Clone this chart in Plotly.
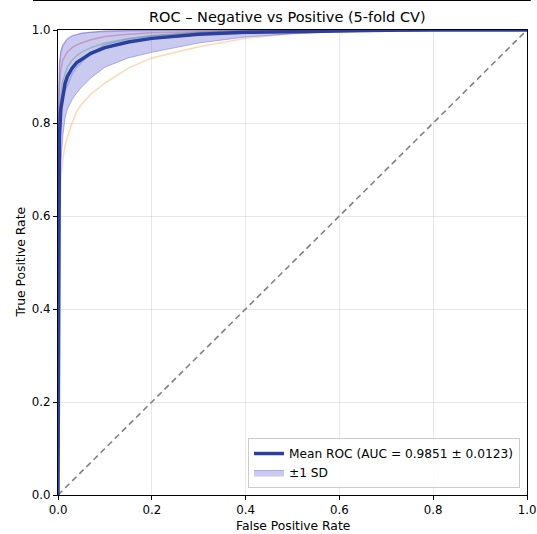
import plotly.graph_objects as go

fpr = [0, 0.001, 0.003, 0.006, 0.01, 0.015, 0.02, 0.03, 0.04, 0.05, 0.07, 0.1,
       0.15, 0.2, 0.3, 0.4, 0.5, 0.6, 0.7, 0.8, 1.0]

fold_tpr = {
    "Fold 1": [0, 0.70, 0.80, 0.84, 0.86, 0.87, 0.88, 0.905, 0.92, 0.93, 0.95, 0.969,
               0.98, 0.987, 0.994, 0.997, 0.999, 1.0, 1.0, 1.0, 1.0],
    "Fold 2": [0, 0.40, 0.60, 0.68, 0.72, 0.75, 0.77, 0.80, 0.825, 0.84, 0.862, 0.886,
               0.918, 0.94, 0.964, 0.982, 0.992, 0.997, 0.999, 1.0, 1.0],
    "Fold 3": [0, 0.72, 0.82, 0.86, 0.89, 0.905, 0.92, 0.935, 0.945, 0.952, 0.962, 0.972,
               0.982, 0.988, 0.995, 0.998, 0.999, 1.0, 1.0, 1.0, 1.0],
    "Fold 4": [0, 0.80, 0.88, 0.915, 0.935, 0.945, 0.953, 0.962, 0.968, 0.972, 0.979, 0.986,
               0.991, 0.994, 0.997, 0.999, 1.0, 1.0, 1.0, 1.0, 1.0],
    "Fold 5": [0, 0.85, 0.92, 0.95, 0.965, 0.975, 0.982, 0.988, 0.991, 0.993, 0.995, 0.997,
               0.998, 0.999, 1.0, 1.0, 1.0, 1.0, 1.0, 1.0, 1.0],
}
fold_colors = ["#1f77b4", "#ff7f0e", "#2ca02c", "#d62728", "#9467bd"]

mean_tpr = [0, 0.66, 0.77, 0.83, 0.86, 0.885, 0.90, 0.918, 0.93, 0.937, 0.95, 0.962,
            0.974, 0.982, 0.991, 0.995, 0.997, 0.999, 0.9995, 1.0, 1.0]
tpr_upper = [0, 0.82, 0.93, 0.955, 0.968, 0.975, 0.98, 0.987, 0.99, 0.993, 0.995, 0.998,
             0.999, 1.0, 1.0, 1.0, 1.0, 1.0, 1.0, 1.0, 1.0]
tpr_lower = [0, 0.48, 0.62, 0.71, 0.77, 0.81, 0.83, 0.85, 0.865, 0.877, 0.897, 0.92,
             0.94, 0.952, 0.972, 0.985, 0.992, 0.996, 0.998, 0.999, 1.0]

mean_auc = 0.9851
std_auc = 0.0123

fig = go.Figure()

for (name, tpr), col in zip(fold_tpr.items(), fold_colors):
    fig.add_trace(go.Scatter(x=fpr, y=tpr, mode="lines", name=name,
                             line=dict(color=col, width=1.5), opacity=0.3,
                             showlegend=False, hoverinfo="skip"))

fig.add_trace(go.Scatter(x=[0, 1], y=[0, 1], mode="lines",
                         line=dict(color="#808080", width=1.6, dash="6px,4px"),
                         showlegend=False, hoverinfo="skip"))

fig.add_trace(go.Scatter(x=fpr, y=tpr_lower, mode="lines",
                         line=dict(color="rgba(60,60,210,0.35)", width=1),
                         showlegend=False, hoverinfo="skip"))
fig.add_trace(go.Scatter(x=fpr, y=tpr_upper, mode="lines", fill="tonexty",
                         fillcolor="rgba(60,60,200,0.27)",
                         line=dict(color="rgba(60,60,210,0.35)", width=1),
                         name="±1 SD", legendrank=2))

fig.add_trace(go.Scatter(x=fpr, y=mean_tpr, mode="lines",
                         line=dict(color="#2b3f9e", width=3.5),
                         name=f"Mean ROC (AUC = {mean_auc:.4f} ± {std_auc:.4f})",
                         legendrank=1))

axis_common = dict(range=[0, 1], tickvals=[0, 0.2, 0.4, 0.6, 0.8, 1.0],
                   ticktext=["0.0", "0.2", "0.4", "0.6", "0.8", "1.0"],
                   showline=True, linecolor="black", linewidth=1, mirror=True,
                   ticks="outside", ticklen=4, tickcolor="black", automargin=False,
                   showgrid=True, gridcolor="rgba(0,0,0,0.09)", gridwidth=1,
                   zeroline=False, tickfont=dict(size=11.8, color="black"))

fig.update_layout(
    width=537, height=534,
    margin=dict(l=58, r=10, t=30, b=39, autoexpand=False),
    paper_bgcolor="white", plot_bgcolor="white",
    font=dict(family="DejaVu Sans", color="black"),
    title=dict(text="ROC – Negative vs Positive (5-fold CV)", x=0.535, xanchor="center",
               y=1 - 17 / 534, yanchor="middle", font=dict(size=14.5)),
    xaxis=dict(**axis_common),
    yaxis=dict(**axis_common),
    legend=dict(x=0.985, y=0.015, xanchor="right", yanchor="bottom", traceorder="normal",
                bgcolor="rgba(255,255,255,0.85)", bordercolor="#cccccc", borderwidth=1,
                font=dict(size=12.2)),
    annotations=[
        dict(text="False Positive Rate", xref="paper", yref="paper", x=0.5,
             y=-(526 - 495) / 465, xanchor="center", yanchor="middle",
             showarrow=False, font=dict(size=12.3)),
        dict(text="True Positive Rate", xref="paper", yref="paper",
             x=(20 - 58) / 469, y=0.5, xanchor="center", yanchor="middle",
             textangle=-90, showarrow=False, font=dict(size=12.3)),
    ],
    shapes=[dict(type="line", xref="paper", yref="paper", x0=-0.0533, x1=1.008,
                 y0=1.0635, y1=1.0635, line=dict(color="black", width=1.2))],
)

fig.write_html("out.html")
